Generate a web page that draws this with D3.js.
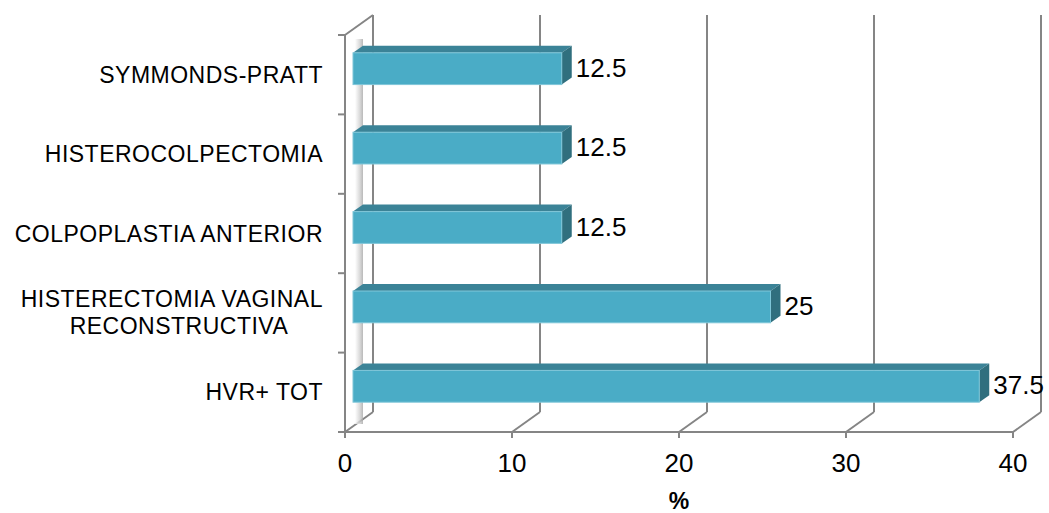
<!DOCTYPE html>
<html>
<head>
<meta charset="utf-8">
<script src="https://cdn.jsdelivr.net/npm/d3@7"></script>
<style>
  html, body { margin: 0; padding: 0; background: #ffffff; }
  svg { display: block; }
  text { font-family: "Liberation Sans", Arial, Helvetica, sans-serif; fill: #000; }
</style>
</head>
<body>
<svg id="chart" width="1049" height="513"></svg>
<script>
// Procedures, listed top to bottom as drawn
const categories = [
  ["SYMMONDS-PRATT"],
  ["HISTEROCOLPECTOMIA"],
  ["COLPOPLASTIA ANTERIOR"],
  ["HISTERECTOMIA VAGINAL", "RECONSTRUCTIVA"],
  ["HVR+ TOT"]
];
const values = [12.5, 12.5, 12.5, 25, 37.5];
const xTicks = [0, 10, 20, 30, 40];
const xTitle = "%";

const svg = d3.select("#chart");

// Front plane of the 3D plot box
const plotLeft = 345, plotRight = 1013, plotTop = 35, plotBottom = 432;
// Offset from the front plane to the back wall
const depth = { dx: 28, dy: -20 };
// Bars sit partway into the box and have their own depth
const barFront = { dx: 8, dy: -6 };
const barDepth = { dx: 10, dy: -7 };

const x = d3.scaleLinear().domain([0, 40]).range([plotLeft, plotRight]);
const keys = categories.map((c, i) => i);
const y = d3.scaleBand().domain(keys).range([plotTop, plotBottom])
  .paddingInner(0.6).paddingOuter(0.3);
const yCat = d3.scaleBand().domain(keys).range([plotTop, plotBottom]);

const gridColor = "#858585";
const defs = svg.append("defs");

// Shading band on the left wall
const wallGrad = defs.append("linearGradient").attr("id", "wallShade")
  .attr("x1", "0").attr("x2", "1").attr("y1", "0").attr("y2", "0");
wallGrad.append("stop").attr("offset", "0").attr("stop-color", "#ffffff");
wallGrad.append("stop").attr("offset", "0.6").attr("stop-color", "#d0d0d0");
wallGrad.append("stop").attr("offset", "1").attr("stop-color", "#a8a8a8");

const grid = svg.append("g").attr("stroke", gridColor).attr("stroke-width", 2).attr("fill", "none");

// Back wall gridlines
grid.selectAll("line.back").data(xTicks).join("line")
  .attr("class", "back")
  .attr("x1", d => x(d) + depth.dx).attr("x2", d => x(d) + depth.dx)
  .attr("y1", plotTop + depth.dy).attr("y2", plotBottom + depth.dy);

// Floor gridlines
grid.selectAll("line.floor").data(xTicks).join("line")
  .attr("class", "floor")
  .attr("x1", d => x(d)).attr("y1", plotBottom)
  .attr("x2", d => x(d) + depth.dx).attr("y2", plotBottom + depth.dy);

// Left wall top edge
grid.append("line").attr("x1", plotLeft).attr("y1", plotTop)
  .attr("x2", plotLeft + depth.dx).attr("y2", plotTop + depth.dy);

// Wall shading strip, one segment per gap between bars
const gaps = keys.map(k => [k === 0 ? plotTop + 4 : y(k - 1) + barFront.dy + y.bandwidth(), y(k) + barFront.dy]);
gaps.push([y(keys.length - 1) + barFront.dy + y.bandwidth(), plotBottom - 8]);
svg.append("g").selectAll("rect").data(gaps).join("rect")
  .attr("x", plotLeft + 10).attr("y", d => d[0])
  .attr("width", 8).attr("height", d => d[1] - d[0])
  .attr("fill", "url(#wallShade)").attr("opacity", 0.8);

// Axes on the front plane
const axes = svg.append("g").attr("stroke", gridColor).attr("stroke-width", 2).attr("fill", "none");
axes.append("line").attr("x1", plotLeft).attr("x2", plotLeft).attr("y1", plotTop).attr("y2", plotBottom + 1);
axes.append("line").attr("x1", plotLeft - 1).attr("x2", plotRight + 1).attr("y1", plotBottom).attr("y2", plotBottom);
axes.selectAll("line.xt").data(xTicks).join("line").attr("class", "xt")
  .attr("x1", d => x(d)).attr("x2", d => x(d)).attr("y1", plotBottom).attr("y2", plotBottom + 6);
const catTicks = keys.map(k => yCat(k)).concat([plotBottom]);
axes.selectAll("line.yt").data(catTicks).join("line").attr("class", "yt")
  .attr("x1", plotLeft - 7).attr("x2", plotLeft).attr("y1", d => d).attr("y2", d => d);

// Bars
const bars = svg.append("g");
values.forEach((v, i) => {
  const x0 = x(0) + barFront.dx, x1 = x(v) + barFront.dx;
  const y0 = y(i) + barFront.dy, y1 = y0 + y.bandwidth();
  const dx = barDepth.dx, dy = barDepth.dy;
  const g = bars.append("g");
  // top face
  g.append("path")
    .attr("d", `M${x0},${y0}L${x1},${y0}L${x1 + dx},${y0 + dy}L${x0 + dx},${y0 + dy}Z`)
    .attr("fill", "#3b8397");
  // side face
  g.append("path")
    .attr("d", `M${x1},${y0}L${x1 + dx},${y0 + dy}L${x1 + dx},${y1 + dy}L${x1},${y1}Z`)
    .attr("fill", "#306f7e");
  // front face
  g.append("rect")
    .attr("x", x0).attr("y", y0)
    .attr("width", x1 - x0).attr("height", y1 - y0)
    .attr("fill", "#4aacc6")
    .attr("stroke", "#7fc6d8").attr("stroke-width", 1);
  // value label
  svg.append("text")
    .attr("x", x1 + dx + 4)
    .attr("y", (y0 + y1) / 2 - 1)
    .attr("dy", "0.35em")
    .attr("font-size", 26)
    .text(v);
});

// Category labels
const catLabels = svg.append("g").attr("font-size", 23).attr("letter-spacing", "0.5px");
categories.forEach((lines, i) => {
  const cy = yCat(i) + yCat.bandwidth() / 2;
  const lh = 27;
  const t = catLabels.append("text");
  if (lines.length === 1) {
    t.attr("x", 323).attr("y", cy).attr("dy", "0.35em")
      .attr("text-anchor", "end").text(lines[0]);
  } else {
    lines.forEach((ln, j) => {
      t.append("tspan")
        .attr("x", j === 0 ? 323 : 179)
        .attr("text-anchor", j === 0 ? "end" : "middle")
        .attr("y", cy + (j - (lines.length - 1) / 2) * lh)
        .attr("dy", "0.35em")
        .text(ln);
    });
  }
});

// X tick labels
svg.append("g").selectAll("text").data(xTicks).join("text")
  .attr("x", d => x(d)).attr("y", 472)
  .attr("text-anchor", "middle").attr("font-size", 26)
  .text(d => d);

// Axis title
svg.append("text")
  .attr("x", (plotLeft + plotRight) / 2).attr("y", 509)
  .attr("text-anchor", "middle").attr("font-size", 23).attr("font-weight", "bold")
  .text(xTitle);
</script>
</body>
</html>
